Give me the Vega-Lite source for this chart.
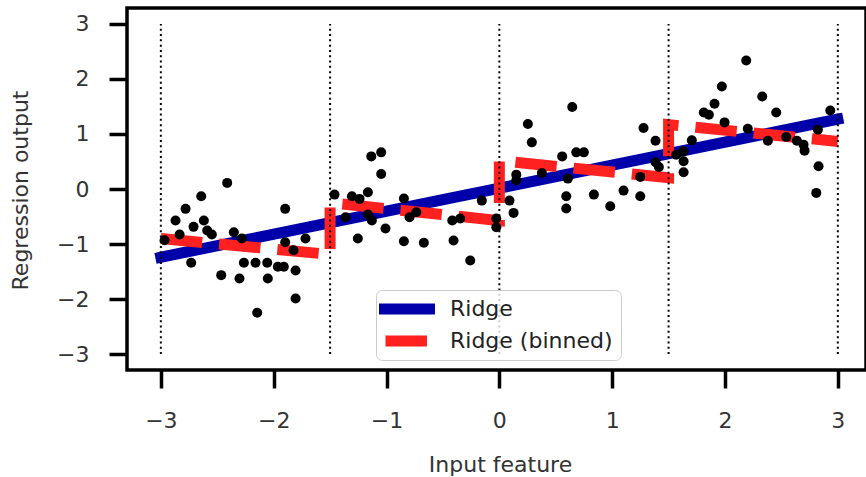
{
  "$schema": "https://vega.github.io/schema/vega-lite/v6.json",
  "width": 739,
  "height": 362,
  "autosize": {"type": "none"},
  "padding": {"left": 127, "top": 8, "right": 0, "bottom": 107},
  "background": "white",
  "datasets": {
    "lines": [
      {"series": "Ridge", "i": 0, "x": -3, "y": -1.24},
      {"series": "Ridge", "i": 1, "x": 3, "y": 1.27},
      {"series": "Ridge (binned)", "i": 0, "x": -3, "y": -0.9},
      {"series": "Ridge (binned)", "i": 1, "x": -1.5, "y": -1.19},
      {"series": "Ridge (binned)", "i": 2, "x": -1.5, "y": -0.25},
      {"series": "Ridge (binned)", "i": 3, "x": 0, "y": -0.575},
      {"series": "Ridge (binned)", "i": 4, "x": 0, "y": 0.515},
      {"series": "Ridge (binned)", "i": 5, "x": 1.5, "y": 0.205},
      {"series": "Ridge (binned)", "i": 6, "x": 1.5, "y": 1.17},
      {"series": "Ridge (binned)", "i": 7, "x": 3, "y": 0.865}
    ],
    "vl": [
      {"x": -3, "y": -3, "y2": 3},
      {"x": -1.5, "y": -3, "y2": 3},
      {"x": 0, "y": -3, "y2": 3},
      {"x": 1.5, "y": -3, "y2": 3},
      {"x": 3, "y": -3, "y2": 3}
    ],
    "pts": [
      {"x": -2.967, "y": -0.931}, {"x": -2.87, "y": -0.573}, {"x": -2.834, "y": -0.828},
      {"x": -2.781, "y": -0.361}, {"x": -2.731, "y": -1.341}, {"x": -2.71, "y": -0.688},
      {"x": -2.642, "y": -0.132}, {"x": -2.619, "y": -0.573}, {"x": -2.589, "y": -0.755},
      {"x": -2.548, "y": -0.828}, {"x": -2.465, "y": -1.566}, {"x": -2.412, "y": 0.111},
      {"x": -2.353, "y": -0.786}, {"x": -2.303, "y": -1.626}, {"x": -2.282, "y": -0.9},
      {"x": -2.264, "y": -1.341}, {"x": -2.161, "y": -1.341}, {"x": -2.146, "y": -2.249},
      {"x": -2.057, "y": -1.341}, {"x": -2.052, "y": -1.626}, {"x": -1.963, "y": -1.414},
      {"x": -1.91, "y": -1.414}, {"x": -1.898, "y": -0.361}, {"x": -1.898, "y": -0.967},
      {"x": -1.824, "y": -1.113}, {"x": -1.806, "y": -1.481}, {"x": -1.806, "y": -1.989},
      {"x": -1.718, "y": -0.9}, {"x": -1.461, "y": -0.102}, {"x": -1.363, "y": -0.514},
      {"x": -1.307, "y": -0.132}, {"x": -1.254, "y": -0.9}, {"x": -1.239, "y": -0.18},
      {"x": -1.165, "y": -0.06}, {"x": -1.165, "y": -0.465}, {"x": -1.135, "y": 0.593},
      {"x": -1.13, "y": -0.573}, {"x": -1.047, "y": 0.666}, {"x": -1.047, "y": 0.274},
      {"x": -1.009, "y": -0.719}, {"x": -0.846, "y": -0.174}, {"x": -0.846, "y": -0.949},
      {"x": -0.796, "y": -0.514}, {"x": -0.736, "y": -0.423}, {"x": -0.669, "y": -0.978},
      {"x": -0.417, "y": -0.573}, {"x": -0.406, "y": -0.936}, {"x": -0.347, "y": -0.537},
      {"x": -0.258, "y": -1.299}, {"x": -0.155, "y": -0.211}, {"x": -0.027, "y": -0.537},
      {"x": -0.027, "y": -0.695}, {"x": 0.09, "y": -0.211}, {"x": 0.126, "y": -0.434},
      {"x": 0.15, "y": 0.261}, {"x": 0.15, "y": 0.158}, {"x": 0.253, "y": 1.181},
      {"x": 0.288, "y": 0.848}, {"x": 0.377, "y": 0.292}, {"x": 0.557, "y": 0.593},
      {"x": 0.593, "y": -0.132}, {"x": 0.593, "y": -0.356}, {"x": 0.607, "y": 0.189},
      {"x": 0.646, "y": 1.49}, {"x": 0.682, "y": 0.666}, {"x": 0.749, "y": 0.666},
      {"x": 0.838, "y": -0.102}, {"x": 0.983, "y": -0.314}, {"x": 1.101, "y": -0.029},
      {"x": 1.249, "y": 0.22}, {"x": 1.249, "y": -0.132}, {"x": 1.278, "y": 1.109},
      {"x": 1.384, "y": 0.878}, {"x": 1.384, "y": 0.485}, {"x": 1.414, "y": 0.401},
      {"x": 1.568, "y": 0.624}, {"x": 1.633, "y": 0.684}, {"x": 1.633, "y": 0.503},
      {"x": 1.633, "y": 0.303}, {"x": 1.706, "y": 0.884}, {"x": 1.812, "y": 1.392},
      {"x": 1.857, "y": 1.35}, {"x": 1.907, "y": 1.55}, {"x": 1.972, "y": 1.864},
      {"x": 1.996, "y": 1.211}, {"x": 2.188, "y": 2.336}, {"x": 2.202, "y": 1.096},
      {"x": 2.33, "y": 1.682}, {"x": 2.38, "y": 0.878}, {"x": 2.454, "y": 1.392},
      {"x": 2.543, "y": 0.946}, {"x": 2.637, "y": 0.878}, {"x": 2.696, "y": 0.806},
      {"x": 2.705, "y": 0.697}, {"x": 2.823, "y": 1.078}, {"x": 2.829, "y": 0.412},
      {"x": 2.809, "y": -0.071}, {"x": 2.933, "y": 1.428}
    ]
  },
  "encoding": {
    "x": {
      "field": "x", "type": "quantitative",
      "scale": {"domain": [-3.3, 3.2496], "nice": false, "zero": false},
      "axis": {
        "title": "Input feature",
        "values": [-3, -2, -1, 0, 1, 2, 3],
        "labelPadding": 22,
        "titleX": 373, "titleY": 101,
        "titleAlign": "center", "titleBaseline": "alphabetic"
      }
    },
    "y": {
      "field": "y", "type": "quantitative",
      "scale": {"domain": [-3.29, 3.29], "nice": false, "zero": false},
      "axis": {
        "title": "Regression output",
        "values": [-3, -2, -1, 0, 1, 2, 3],
        "labelPadding": 20,
        "titleX": -99.5, "titleY": 182, "titleAngle": 270,
        "titleAlign": "center", "titleBaseline": "alphabetic"
      }
    }
  },
  "layer": [
    {
      "data": {"name": "lines"},
      "transform": [{"filter": "datum.series === 'Ridge'"}],
      "mark": {"type": "line", "strokeWidth": 11, "strokeCap": "square"},
      "encoding": {
        "order": {"field": "i", "type": "quantitative"},
        "color": {
          "field": "series", "type": "nominal",
          "scale": {"domain": ["Ridge", "Ridge (binned)"], "range": ["#0000aa", "#ff2020"]},
          "legend": {
            "title": null, "orient": "none", "legendX": 249, "legendY": 282,
            "encode": {"symbols": {"update": {"strokeJoin": {"value": "round"}}}}
          }
        },
        "strokeDash": {
          "field": "series", "type": "nominal",
          "scale": {"domain": ["Ridge", "Ridge (binned)"], "range": [[1, 0], [41.5, 17]]},
          "legend": {
            "title": null, "orient": "none", "legendX": 249, "legendY": 282,
            "encode": {"symbols": {"update": {"strokeJoin": {"value": "round"}}}}
          }
        }
      }
    },
    {
      "data": {"name": "lines"},
      "transform": [{"filter": "datum.series === 'Ridge (binned)'"}],
      "mark": {"type": "line", "strokeWidth": 11, "strokeCap": "butt"},
      "encoding": {
        "order": {"field": "i", "type": "quantitative"},
        "color": {"field": "series", "type": "nominal"},
        "strokeDash": {"field": "series", "type": "nominal"}
      }
    },
    {
      "data": {"name": "pts"},
      "mark": {"type": "circle", "size": 100, "color": "black", "opacity": 1}
    },
    {
      "data": {"name": "vl"},
      "mark": {"type": "rule", "color": "black", "strokeWidth": 2, "strokeDash": [2, 3.3]},
      "encoding": {"y2": {"field": "y2"}}
    }
  ],
  "config": {
    "font": "DejaVu Sans",
    "view": {"stroke": "black", "strokeWidth": 3.5},
    "axis": {
      "domain": false,
      "grid": false,
      "ticks": true,
      "tickColor": "black",
      "tickWidth": 3.5,
      "tickSize": 18,
      "labelFont": "DejaVu Sans",
      "labelFontSize": 22,
      "labelColor": "#333333",
      "titleFont": "DejaVu Sans",
      "titleFontSize": 22,
      "titleFontWeight": "normal",
      "titleColor": "#333333"
    },
    "legend": {
      "symbolType": "M-5.6,0H5.6",
      "symbolSize": 100,
      "symbolStrokeWidth": 11,
      "symbolDashOffset": 52,
      "symbolOffset": 12,
      "labelFont": "DejaVu Sans",
      "labelFontSize": 22,
      "labelColor": "#222222",
      "labelOffset": 32,
      "labelLimit": 400,
      "padding": 8,
      "rowPadding": 10,
      "fillColor": "rgba(255,255,255,0.8)",
      "strokeColor": "#cccccc",
      "cornerRadius": 6
    }
  }
}
